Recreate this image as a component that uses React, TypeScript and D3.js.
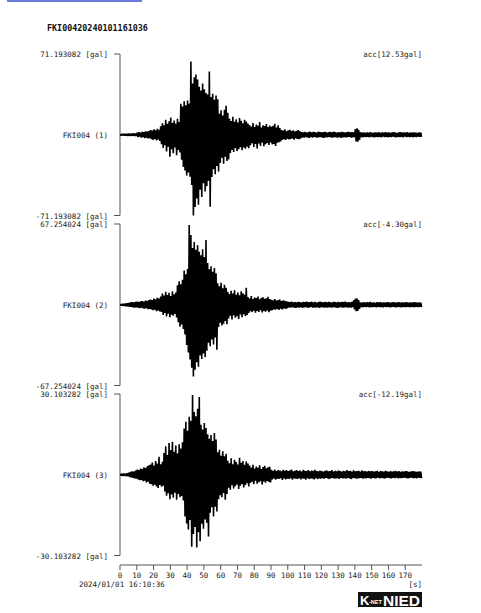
import React from "react";
import * as d3 from "d3";

// ---- data ----
const TITLE = "FKI00420240101161036";
const STATION_LABELS = ["FKI004 (1)", "FKI004 (2)", "FKI004 (3)"];
const FULL_SCALE = [71.193082, 67.254024, 30.103282];
const ACC_LABELS = ["acc[12.53gal]", "acc[-4.30gal]", "acc[-12.19gal]"];
const X_TICKS = [0, 10, 20, 30, 40, 50, 60, 70, 80, 90, 100, 110, 120, 130, 140, 150, 160, 170];
const START_TIME = "2024/01/01 16:10:36";
const UNIT_X = "[s]";

// per-second envelope (max / min) in gal, t = 0..179 s
const ch1Max = [
  0.6,0.8,0.7,0.9,0.8,1.0,0.9,1.1,1.2,1.0,
  1.8,2.2,1.9,2.6,2.4,3.1,2.7,3.3,
  4.1,3.6,4.8,3.9,5.2,4.4,
  7.5,10.2,8.4,13.1,9.6,11.8,15.2,10.4,12.6,9.8,14.1,11.3,
  27.4,24.8,29.6,26.1,30.2,27.5,
  64.5,45.2,
  50.8,53.1,48.6,
  42.3,38.9,45.1,40.2,36.7,
  35.4,55.7,
  33.2,36.1,30.8,34.5,31.2,
  18.4,21.6,16.9,22.1,25.6,19.3,
  14.2,12.1,15.9,11.4,13.6,10.8,14.7,12.3,10.1,13.2,11.6,9.8,
  8.6,7.2,10.4,6.9,9.1,7.8,11.2,6.4,8.3,7.6,9.4,6.8,8.1,7.1,
  7.9,9.6,6.3,8.4,5.9,
  4.2,3.6,4.8,3.1,3.9,4.4,3.3,3.8,2.9,3.5,4.1,3.0,
  2.4,2.1,2.6,1.9,2.3,2.8,2.0,2.5,2.2,1.8,2.7,2.3,2.0,2.4,2.6,1.9,2.2,2.5,2.1,2.8,2.3,1.9,2.4,2.0,2.6,2.2,1.8,2.3,2.5,2.1,2.4,2.0,
  5.1,5.6,4.3,
  2.2,1.9,2.1,1.7,2.0,1.8,2.3,1.6,1.9,2.1,1.8,2.2,1.7,2.0,1.9,2.4,1.8,2.1,1.6,2.0,2.2,1.9,1.7,2.1,2.3,1.8,2.0,1.9,2.2,1.7,2.0,1.8,2.1,1.9,1.7,2.0,1.8,
];
const ch1Min = [
  -0.7,-0.6,-0.9,-0.8,-1.0,-0.8,-1.1,-0.9,-1.2,-1.1,
  -2.0,-1.7,-2.5,-2.2,-2.9,-2.6,-3.2,-3.0,
  -3.8,-4.5,-3.7,-5.0,-4.2,-5.4,
  -8.4,-11.6,-9.2,-14.8,-10.5,-19.4,-12.7,-16.3,-11.2,-18.1,-13.5,-15.6,
  -22.1,-28.4,-31.6,-35.9,-33.2,-37.1,
  -44.2,-71.19,
  -63.7,-56.2,-61.8,
  -48.4,-54.8,-42.7,-50.1,-45.3,
  -40.6,-63.5,
  -37.2,-30.4,-34.8,-27.6,-32.5,
  -24.8,-20.3,-25.6,-19.4,-23.1,-21.7,
  -16.1,-13.4,-15.2,-11.7,-14.3,-12.8,-10.9,-13.7,-11.2,-12.4,-10.5,-11.8,
  -9.3,-7.4,-10.7,-8.1,-12.1,-7.6,-9.8,-6.9,-10.2,-8.4,-7.3,-9.1,-6.8,-8.5,
  -8.2,-9.9,-7.1,-6.5,-5.8,
  -4.5,-3.9,-4.6,-3.4,-4.1,-3.7,-3.2,-4.3,-3.1,-3.6,-3.9,-3.2,
  -2.3,-2.6,-2.0,-2.4,-2.7,-2.1,-2.5,-1.9,-2.3,-2.6,-2.2,-2.0,-2.5,-2.8,-2.1,-2.4,-1.9,-2.3,-2.6,-2.0,-2.2,-2.5,-2.1,-2.7,-2.3,-2.0,-2.4,-2.2,-1.9,-2.5,-2.3,-2.1,
  -5.8,-6.2,-4.6,
  -2.0,-2.2,-1.8,-2.1,-1.9,-2.3,-1.7,-2.0,-2.2,-1.8,-2.1,-1.9,-2.3,-1.7,-2.0,-1.8,-2.2,-1.9,-2.1,-1.7,-2.0,-2.3,-1.8,-2.1,-1.9,-2.2,-1.7,-2.0,-1.8,-2.1,-1.9,-2.2,-1.8,-2.0,-1.7,-1.9,-1.8,
];

const ch2Max = [
  0.6,0.8,0.9,1.1,1.3,1.6,1.9,2.2,2.0,2.4,
  2.6,2.3,2.9,3.1,2.7,3.4,3.2,3.8,
  4.3,3.9,5.1,4.6,5.8,5.2,
  6.8,9.4,7.6,10.8,8.1,9.9,7.3,11.2,8.7,10.1,
  16.2,19.5,17.1,20.8,
  28.6,25.3,29.8,
  66.4,58.1,47.2,
  52.3,45.8,49.6,44.1,
  41.2,46.3,39.7,54.0,
  34.8,29.6,32.1,27.4,30.5,26.2,
  17.9,15.3,18.4,13.8,16.6,14.1,
  10.8,8.9,11.6,9.3,12.1,8.4,10.2,7.9,11.3,9.6,8.2,14.2,
  6.4,5.1,7.2,4.8,6.1,5.6,6.9,4.6,5.8,6.3,4.9,5.4,6.6,4.7,
  4.2,3.6,4.8,3.4,3.9,4.4,3.1,3.7,3.3,2.9,
  2.4,2.1,2.6,1.9,2.3,2.0,2.5,2.2,1.8,2.4,2.1,2.7,1.9,2.2,2.5,2.0,2.3,1.8,2.1,2.6,2.2,1.9,2.4,2.0,2.3,2.1,1.8,2.5,2.2,1.9,2.4,2.0,2.3,2.1,2.6,2.0,2.2,1.9,2.4,
  3.6,4.9,5.3,3.8,
  2.0,1.8,2.2,1.7,2.1,1.9,2.3,1.8,2.0,1.6,2.1,1.9,2.2,1.7,2.0,1.8,2.1,1.9,1.7,2.0,2.2,1.8,1.9,2.1,1.7,2.0,1.8,2.2,1.9,1.7,2.0,1.8,2.1,1.9,1.7,2.0,1.8,
];
const ch2Min = [
  -0.7,-0.9,-1.0,-1.2,-1.4,-1.7,-1.8,-2.1,-2.3,-2.2,
  -2.5,-2.8,-2.4,-3.0,-3.3,-2.9,-3.6,-3.4,
  -4.0,-4.6,-4.1,-5.3,-4.7,-5.5,
  -5.9,-8.6,-6.8,-9.7,-7.4,-10.3,-8.2,-9.1,-7.7,-10.6,
  -14.6,-18.3,-16.4,-20.1,
  -24.7,-33.5,-39.8,
  -45.6,-52.4,-59.8,
  -54.1,-47.9,-51.6,-42.3,
  -45.2,-40.6,-43.8,-38.4,
  -31.7,-34.6,-28.9,-33.1,-27.2,-37.4,
  -18.6,-14.9,-17.2,-15.8,-13.6,-16.3,
  -11.4,-9.2,-12.3,-8.7,-10.9,-9.6,-11.8,-8.1,-10.4,-7.8,-9.3,-8.6,
  -6.8,-5.4,-6.1,-4.9,-6.7,-5.2,-5.9,-4.5,-6.4,-5.1,-5.7,-4.8,-6.2,-5.0,
  -4.5,-3.8,-4.1,-3.5,-4.3,-3.2,-3.9,-3.0,-3.4,-2.8,
  -2.2,-2.5,-2.0,-2.4,-2.7,-2.1,-2.3,-1.9,-2.6,-2.2,-2.0,-2.4,-2.3,-1.8,-2.5,-2.1,-2.4,-2.0,-2.6,-2.2,-1.9,-2.3,-2.1,-2.5,-2.0,-2.4,-2.2,-1.9,-2.3,-2.6,-2.1,-2.0,-2.4,-2.2,-1.9,-2.5,-2.1,-2.3,-2.0,
  -3.9,-5.4,-5.1,-3.5,
  -1.9,-2.1,-1.8,-2.0,-1.7,-2.2,-1.9,-2.0,-1.8,-2.1,-1.7,-2.0,-1.9,-2.2,-1.8,-2.0,-1.7,-2.1,-1.9,-1.8,-2.0,-2.2,-1.7,-1.9,-2.1,-1.8,-2.0,-1.9,-1.7,-2.1,-1.8,-2.0,-1.9,-1.7,-2.0,-1.8,-1.9,
];

const ch3Max = [
  0.3,0.4,0.5,0.4,0.6,0.8,1.1,1.3,1.2,1.6,
  1.9,1.7,2.3,2.1,2.8,2.5,3.2,3.5,
  3.8,4.6,3.4,5.1,4.2,6.7,3.9,4.8,
  8.1,10.6,7.4,11.8,9.2,12.3,8.6,10.9,7.9,11.4,9.8,12.1,
  17.2,19.8,16.4,21.6,
  20.1,29.7,23.4,21.8,24.6,29.0,
  18.6,16.9,19.3,17.4,
  15.1,13.4,14.8,12.6,15.6,13.1,
  8.4,9.3,7.1,8.8,6.9,7.8,
  5.2,4.3,6.1,3.9,5.6,4.7,3.8,6.3,4.5,5.1,3.7,4.9,4.2,
  3.4,2.7,3.7,2.3,3.1,2.6,3.5,2.1,2.9,3.3,2.4,2.8,3.0,
  1.8,1.5,1.9,1.4,1.7,1.6,1.3,1.8,1.5,1.7,1.4,1.6,1.9,1.3,1.5,1.7,1.4,1.6,1.2,1.8,1.5,1.4,1.7,1.3,1.6,1.5,1.8,1.4,1.3,1.6,
  1.4,1.2,1.5,1.6,1.3,1.4,1.7,1.2,1.5,1.3,1.6,1.4,1.2,1.5,1.3,1.7,1.4,1.5,1.2,1.6,1.3,1.4,1.5,1.2,1.6,1.3,1.4,1.2,1.5,1.3,
  1.4,1.2,1.3,1.5,1.1,1.4,1.3,1.2,1.5,1.3,1.1,1.4,1.2,1.3,1.5,1.2,1.4,1.1,1.3,1.2,1.4,1.3,1.1,1.2,1.4,1.3,1.2,1.1,1.3,1.2,
];
const ch3Min = [
  -0.3,-0.5,-0.4,-0.6,-0.5,-0.9,-1.0,-1.2,-1.4,-1.5,
  -1.7,-2.0,-1.9,-2.4,-2.2,-2.9,-2.6,-3.3,
  -3.5,-4.1,-3.7,-4.4,-4.9,-3.8,-4.5,-4.1,
  -6.2,-7.8,-6.9,-9.1,-7.4,-8.6,-6.7,-9.3,-7.2,-8.4,-7.9,-9.6,
  -15.6,-18.2,-20.4,-16.9,
  -26.8,-22.1,-19.5,-27.1,-21.4,-24.8,
  -18.3,-20.1,-16.7,-17.9,
  -23.0,-14.2,-12.1,-15.6,-11.9,-13.7,
  -9.1,-7.6,-8.4,-6.8,-9.3,-7.2,
  -4.8,-5.6,-3.9,-5.1,-4.3,-3.6,-5.3,-4.1,-3.4,-4.7,-3.8,-3.2,-4.4,
  -3.1,-2.6,-3.5,-2.2,-3.3,-2.8,-2.4,-3.6,-2.5,-3.0,-2.3,-2.7,-2.9,
  -1.7,-1.4,-1.8,-1.5,-1.6,-1.3,-1.9,-1.4,-1.7,-1.5,-1.6,-1.3,-1.8,-1.4,-1.5,-1.6,-1.3,-1.7,-1.4,-1.5,-1.8,-1.3,-1.6,-1.4,-1.5,-1.7,-1.3,-1.6,-1.4,-1.5,
  -1.3,-1.5,-1.2,-1.4,-1.6,-1.3,-1.2,-1.5,-1.4,-1.3,-1.6,-1.2,-1.4,-1.3,-1.5,-1.2,-1.4,-1.6,-1.3,-1.2,-1.5,-1.4,-1.3,-1.2,-1.5,-1.3,-1.4,-1.2,-1.3,-1.5,
  -1.2,-1.4,-1.3,-1.1,-1.4,-1.2,-1.3,-1.5,-1.2,-1.1,-1.3,-1.4,-1.2,-1.3,-1.1,-1.4,-1.2,-1.3,-1.2,-1.1,-1.3,-1.4,-1.2,-1.1,-1.3,-1.2,-1.4,-1.1,-1.2,-1.3,
];

const CHANNELS = [
  { max: ch1Max, min: ch1Min },
  { max: ch2Max, min: ch2Min },
  { max: ch3Max, min: ch3Min },
];

// ---- layout ----
const W = 481;
const H = 613;
const X0 = 120;
const X1 = 422;
const PANEL_TOP0 = 54;
const PANEL_STEP = 170;
const PANEL_H = 161.5;
const AXIS_Y = 565;
const FONT = "'DejaVu Sans Mono', 'Liberation Mono', monospace";
const FS = 7.5;
const TXT = "#222";

export default function App() {
  const x = d3.scaleLinear().domain([0, 180]).range([X0, X1]);

  return (
    <svg
      width={W}
      height={H}
      style={{ position: "absolute", left: 0, top: 0, background: "#fff" }}
      fontFamily={FONT}
    >
      <rect x={0} y={0} width={W} height={H} fill="#fff" />
      {/* cropped link underline at top */}
      <line x1={7} x2={142} y1={1} y2={1} stroke="#3a4fd0" strokeWidth={1.5} />

      <text x={47} y={31} fontSize={8.4} fontWeight="bold" fill="#111">
        {TITLE}
      </text>

      {CHANNELS.map((ch, i) => {
        const top = PANEL_TOP0 + i * PANEL_STEP;
        const bottom = top + PANEL_H;
        const fs = FULL_SCALE[i];
        const y = d3.scaleLinear().domain([-fs, fs]).range([bottom, top]);
        const pts: [number, number][] = [];
        ch.max.forEach((v, t) => {
          pts.push([t + 0.25, v]);
          pts.push([t + 0.75, ch.min[t]]);
        });
        const line = d3
          .line<[number, number]>()
          .x((d) => x(d[0]))
          .y((d) => y(d[1]));
        const mid = y(0);
        return (
          <g key={i}>
            <line x1={X0} x2={X0} y1={top} y2={bottom} stroke="#555" strokeWidth={1} />
            <line x1={X0 - 6} x2={X0} y1={top} y2={top} stroke="#555" strokeWidth={1} />
            <line x1={X0 - 6} x2={X0} y1={bottom} y2={bottom} stroke="#555" strokeWidth={1} />
            <text x={108} y={top + 3} fontSize={FS} textAnchor="end" fill={TXT}>
              {`${fs.toFixed(6)} [gal]`}
            </text>
            <text x={108} y={bottom + 3} fontSize={FS} textAnchor="end" fill={TXT}>
              {`-${fs.toFixed(6)} [gal]`}
            </text>
            <text x={108} y={mid + 3} fontSize={FS} textAnchor="end" fill={TXT}>
              {STATION_LABELS[i]}
            </text>
            <text x={X1} y={top + 3} fontSize={FS} textAnchor="end" fill={TXT}>
              {ACC_LABELS[i]}
            </text>
            <line x1={X0} x2={X1} y1={mid} y2={mid} stroke="#000" strokeWidth={1} />
            <path d={line(pts) || ""} fill="none" stroke="#000" strokeWidth={1.6} strokeLinejoin="bevel" />
          </g>
        );
      })}

      {/* time axis */}
      <line x1={X0} x2={X1} y1={AXIS_Y} y2={AXIS_Y} stroke="#555" strokeWidth={1} />
      {X_TICKS.map((t) => (
        <g key={t}>
          <line x1={x(t)} x2={x(t)} y1={AXIS_Y} y2={AXIS_Y + 5} stroke="#555" strokeWidth={1} />
          <text x={x(t)} y={AXIS_Y + 13} fontSize={FS} textAnchor="middle" fill={TXT}>
            {t}
          </text>
        </g>
      ))}
      <text x={79} y={587} fontSize={FS} fill={TXT}>
        {START_TIME}
      </text>
      <text x={X1} y={587} fontSize={FS} textAnchor="end" fill={TXT}>
        {UNIT_X}
      </text>

      {/* logo */}
      <rect x={358} y={592} width={64} height={15} fill="#111" />
      <text x={360} y={605} fontSize={13} fontWeight="bold" fontFamily="'Liberation Sans Narrow', 'Liberation Sans', Arial" fill="#fff">
        K
      </text>
      <text x={369} y={604} fontSize={5.5} fontWeight="bold" fontFamily="'Liberation Sans', Arial" fill="#fff">
        -NET
      </text>
      <text x={383} y={605.5} fontSize={14} fontWeight="bold" fontFamily="'Liberation Sans Narrow', 'Liberation Sans', Arial" fill="#fff" textLength={37} lengthAdjust="spacingAndGlyphs">
        NIED
      </text>
    </svg>
  );
}
